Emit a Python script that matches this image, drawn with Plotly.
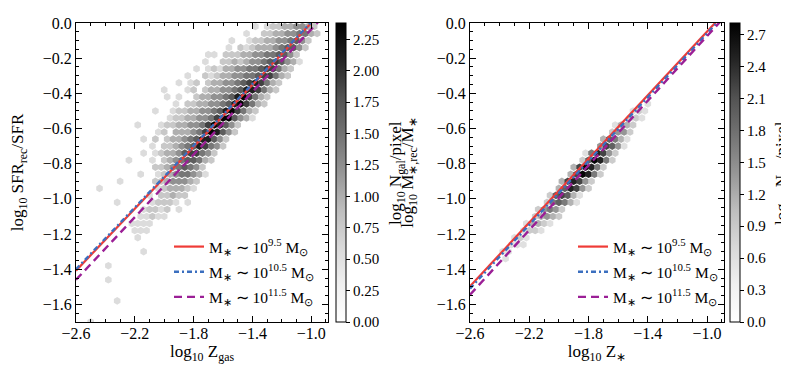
import plotly.graph_objects as go

FONT = "Liberation Serif"

# --- fitted relations (end points) ---
line_x = [-2.6, -0.9]
gas_red_y = [-1.408, 0.088]
gas_blue_y = [-1.400, 0.092]
gas_purple_y = [-1.460, 0.053]
star_red_y = [-1.497, 0.042]
star_blue_y = [-1.510, 0.032]
star_purple_y = [-1.545, 0.018]

mass_labels = [
    "M<sub>∗</sub> ∼ 10<sup>9.5</sup> M<sub>⊙</sub>",
    "M<sub>∗</sub> ∼ 10<sup>10.5</sup> M<sub>⊙</sub>",
    "M<sub>∗</sub> ∼ 10<sup>11.5</sup> M<sub>⊙</sub>",
]
cbar_title = "log<sub>10</sub> N<sub>gal</sub>/pixel"

# --- hexbin counts: (row, first column, density level per cell, '.' = empty) ---
gas_rows = [
    (0, 30, "1.122334432"),
    (1, 28, "1..2233445532"),
    (2, 26, "1..12233445642"),
    (3, 25, "1.212333456642"),
    (4, 22, "11.2223344556642"),
    (5, 21, "1..22323445676431"),
    (6, 20, "1.121334455677532"),
    (7, 18, "1..212334455677532"),
    (8, 17, "1.12.2334456787532"),
    (9, 14, "1...12.2334456887532"),
    (10, 15, "1.1..2334456897532"),
    (11, 16, "1.22334456897532"),
    (12, 13, "1..122334456897532"),
    (13, 15, "122334457996431"),
    (14, 10, "1...12233445798642"),
    (15, 13, "12.33345798642"),
    (16, 11, "1.2.23345688642"),
    (17, 12, "1.22345687542"),
    (18, 11, "1.12334677542"),
    (19, 8, "1...1.234566532"),
    (20, 13, "223456542"),
    (21, 10, "1..123455431"),
    (22, 7, "1.....22344432"),
    (23, 3, "1.........1233321"),
    (24, 12, "1.22322"),
    (25, 6, "1.....12221.1"),
    (26, 11, "12212.1"),
    (27, 10, "11211"),
    (28, 9, "1111"),
    (29, 9, "111"),
    (30, 10, "1"),
    (32, 11, "1"),
    (34, 5, "1"),
    (36, 5, "1"),
    (39, 6, "1"),
    (42, 2, "1"),
]
star_rows = [
    (11, 29, "1"),
    (12, 27, "121"),
    (13, 26, "221"),
    (14, 24, "1332"),
    (15, 23, "2442"),
    (16, 22, "36531"),
    (17, 21, "47641"),
    (18, 19, "158742"),
    (19, 18, "269852"),
    (20, 17, "379852"),
    (21, 16, "379852"),
    (22, 15, "378742"),
    (23, 14, "368742"),
    (24, 13, "267631"),
    (25, 12, "256531"),
    (26, 11, "24542"),
    (27, 10, "23432"),
    (28, 9, "13321"),
    (29, 8, "1221"),
    (30, 7, "121"),
    (31, 6, "111"),
    (32, 5, "11"),
    (33, 5, "1"),
]
# log10 N_gal/pixel for each level
gas_levels = [0, 0.55, 0.78, 1.0, 1.23, 1.45, 1.68, 1.9, 2.13, 2.35]
star_levels = [0, 0.6, 0.87, 1.14, 1.41, 1.68, 1.95, 2.22, 2.49, 2.76]

gas_ticks = [0, 0.25, 0.5, 0.75, 1.0, 1.25, 1.5, 1.75, 2.0, 2.25]
star_ticks = [0, 0.3, 0.6, 0.9, 1.2, 1.5, 1.8, 2.1, 2.4, 2.7]

# hex grid geometry
HX0, HDX, HY0, HDY = -2.58, 0.04, -0.02, 0.04

GREYS = [[0, "#ffffff"], [0.125, "#f0f0f0"], [0.25, "#d9d9d9"], [0.375, "#bdbdbd"],
         [0.5, "#969696"], [0.625, "#737373"], [0.75, "#525252"], [0.875, "#252525"],
         [1, "#000000"]]


def hex_cells(rows, levels):
    xs, ys, vs = [], [], []
    for row, col0, s in rows:
        for k, ch in enumerate(s):
            if ch == ".":
                continue
            xs.append(HX0 + HDX * (col0 + k) + (HDX / 2 if row % 2 else 0))
            ys.append(HY0 - HDY * row)
            vs.append(levels[int(ch)])
    return xs, ys, vs


W, H = 789, 365
panels = [
    dict(rows=gas_rows, levels=gas_levels, cmax=2.38, ticks=gas_ticks, tfmt=".2f",
         cbx=328, cbt=376, lines=[gas_red_y, gas_blue_y, gas_purple_y], xa="x", ya="y", leg="legend"),
    dict(rows=star_rows, levels=star_levels, cmax=2.81, ticks=star_ticks, tfmt=".1f",
         cbx=722, cbt=762, lines=[star_red_y, star_blue_y, star_purple_y], xa="x2", ya="y2", leg="legend2"),
]
styles = [
    dict(color="#ef3b36", width=2.2, dash="solid"),
    dict(color="#3b6fbf", width=2.4, dash="5px,3px,2px,3px"),
    dict(color="#9b1f96", width=2.4, dash="8px,5px"),
]

fig = go.Figure()
for p in panels:
    hx, hy, hv = hex_cells(p["rows"], p["levels"])
    fig.add_trace(go.Scatter(
        x=hx, y=hy, mode="markers", xaxis=p["xa"], yaxis=p["ya"], showlegend=False,
        hoverinfo="skip",
        marker=dict(symbol="hexagon", size=7.6, color=hv, colorscale=GREYS, cmin=0, cmax=p["cmax"],
                    line=dict(width=0), showscale=True,
                    colorbar=dict(x=p["cbx"] / W, xanchor="left", y=1 - 314 / H, yanchor="bottom",
                                  len=299 / H, lenmode="fraction", thickness=10, xpad=0, ypad=0,
                                  outlinewidth=1, outlinecolor="black",
                                  ticks="outside", ticklen=4, tickcolor="black",
                                  tickvals=p["ticks"], tickformat=p["tfmt"],
                                  tickfont=dict(family=FONT, size=15, color="black"))),
    ))
    # colorbar label: left edge just past the tick labels, as in the original
    fig.add_annotation(x=p["cbt"] / W, y=1 - 165 / H, xref="paper", yref="paper",
                       xanchor="left", yanchor="middle",
                       text=cbar_title, textangle=-90, showarrow=False,
                       font=dict(family=FONT, size=17, color="black"))
    for k, (ly, st) in enumerate(zip(p["lines"], styles)):
        fig.add_trace(go.Scatter(
            x=line_x, y=ly, mode="lines", xaxis=p["xa"], yaxis=p["ya"], name=mass_labels[k],
            legend=p["leg"], legendgroup=p["leg"] + str(k), line=st,
        ))

axis_common = dict(showline=True, linecolor="black", linewidth=1, mirror="ticks",
                   ticks="inside", ticklen=6, tickwidth=1, tickcolor="black",
                   showgrid=False, zeroline=False, tickformat=".1f",
                   tickfont=dict(family=FONT, size=16, color="black"))
xcommon = dict(axis_common, range=[-2.6, -0.886], tick0=-2.6, dtick=0.4, ticklabelstandoff=-3,
               minor=dict(ticks="inside", ticklen=3, dtick=0.1, tickcolor="black"))
ycommon = dict(axis_common, range=[-1.7, 0.0], tick0=0, dtick=0.2,
               minor=dict(ticks="inside", ticklen=3, dtick=0.05, tickcolor="black"))
ydom = [1 - 314 / H, 1 - 15 / H]
tfont = dict(family=FONT, size=17, color="black")

legend_common = dict(xanchor="left", yanchor="top", bgcolor="rgba(0,0,0,0)",
                     font=dict(family=FONT, size=15.5, color="black"), tracegroupgap=2)

fig.update_layout(
    width=W, height=H, template="none",
    margin=dict(l=0, r=0, t=0, b=0),
    paper_bgcolor="white", plot_bgcolor="white",
    font=dict(family=FONT, color="black"),
    xaxis=dict(xcommon, domain=[68 / W, 320 / W], anchor="y",
               title=dict(text="log<sub>10</sub> Z<sub>gas</sub>", font=tfont, standoff=0)),
    yaxis=dict(ycommon, domain=ydom, anchor="x",
               title=dict(text="log<sub>10</sub> SFR<sub>rec</sub>/SFR", font=tfont, standoff=18)),
    xaxis2=dict(xcommon, domain=[462 / W, 716 / W], anchor="y2",
                title=dict(text="log<sub>10</sub> Z<sub>∗</sub>", font=tfont, standoff=0)),
    yaxis2=dict(ycommon, domain=ydom, anchor="x2",
                title=dict(text="log<sub>10</sub> M<sub>∗,rec</sub>/M<sub>∗</sub>", font=tfont, standoff=18)),
    legend=dict(legend_common, x=161 / W, y=1 - 222 / H),
    legend2=dict(legend_common, x=565 / W, y=1 - 222 / H),
)

fig.write_html("out.html")
